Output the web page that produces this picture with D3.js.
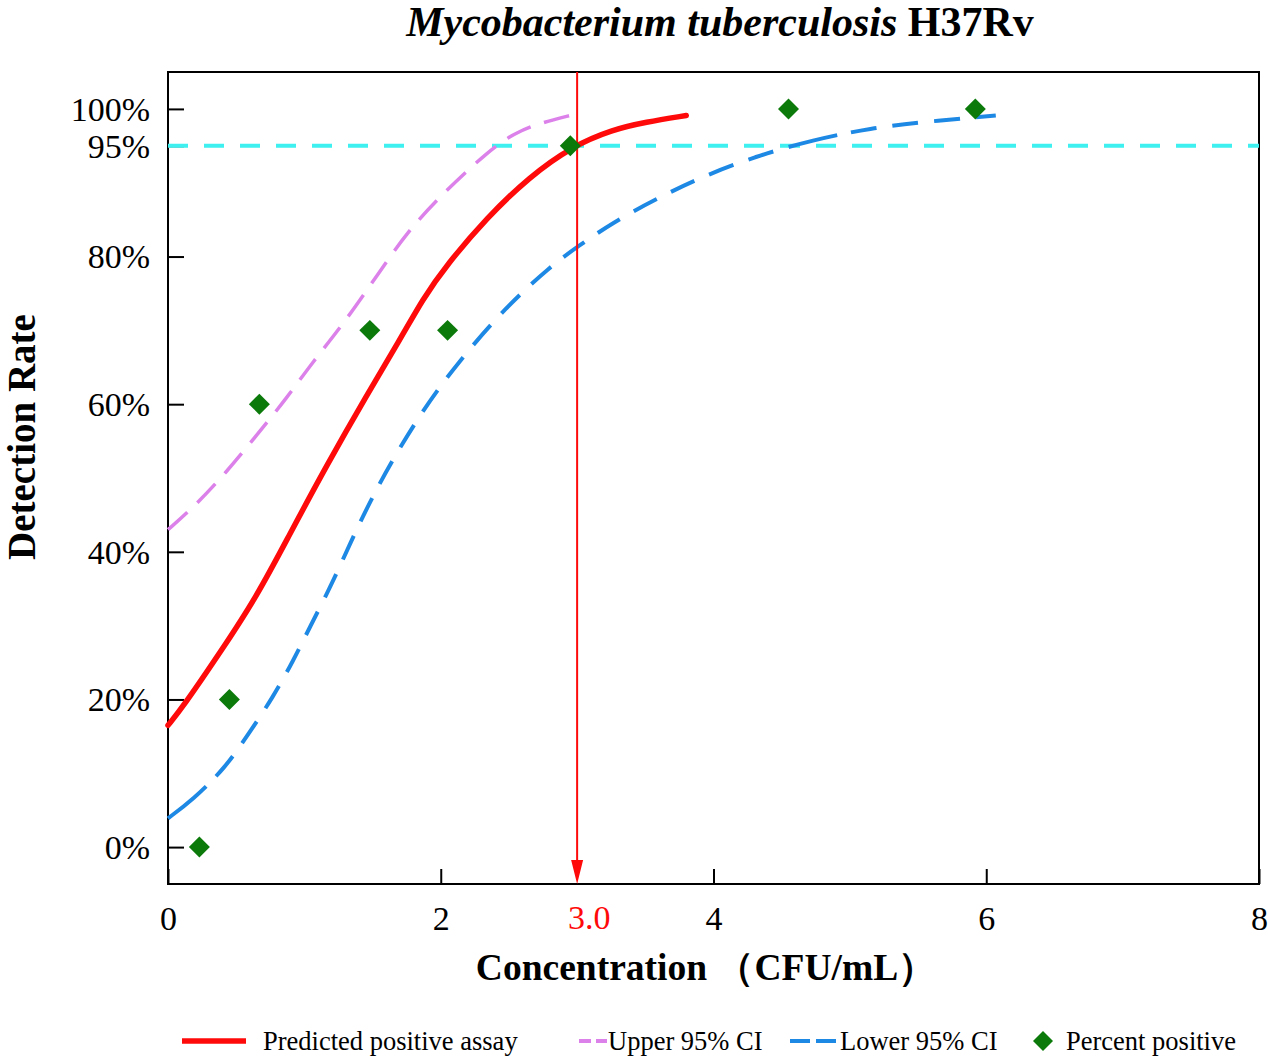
<!DOCTYPE html>
<html><head><meta charset="utf-8">
<script src="https://cdn.jsdelivr.net/npm/d3@7"></script>
<style>body{margin:0;background:#fff}svg{display:block}</style>
</head><body>
<svg id="c" width="1268" height="1061"></svg>
<script>
const predX = [0, 0.11, 0.38, 0.65, 0.89, 1.16, 1.46, 1.70, 1.87, 2.04, 2.34, 2.65, 2.96, 3.26, 3.50, 3.80];
const predY = [16.5, 19.0, 26.3, 33.9, 42.3, 51.6, 61.3, 68.7, 74.3, 78.8, 85.3, 90.8, 94.9, 97.2, 98.2, 99.1];
const upperX = [0, 0.18, 0.43, 0.65, 0.87, 1.06, 1.28, 1.55, 1.75, 1.99, 2.36, 2.55, 2.73, 2.97];
const upperY = [43, 45.9, 50.8, 55.8, 60.8, 65.7, 70.7, 77.9, 83.2, 88.1, 94.5, 96.8, 98.1, 99.2];
const lowerX = [0, 0.18, 0.42, 0.60, 0.77, 0.92, 1.04, 1.19, 1.32, 1.53, 1.85, 2.14, 2.48, 2.80, 3.0, 3.26, 3.58, 3.9, 4.31, 4.73, 5.15, 5.57, 6.07];
const lowerY = [3.9, 6.4, 10.7, 15.6, 20.3, 25.3, 29.8, 35.2, 40.5, 48.8, 58.8, 66.0, 73.2, 78.6, 81.3, 84.6, 87.8, 90.7, 93.6, 95.8, 97.4, 98.3, 99.1];
const ptX = [0.23, 0.45, 0.67, 1.48, 2.05, 2.95, 4.55, 5.92];
const ptY = [0, 20, 60, 70, 70, 95, 100, 100];
const xTicks = [0, 2, 4, 6, 8];
const yTicks = [0, 20, 40, 60, 80, 95, 100];
const lodX = 3.0;
const cutY = 95;
const legendLabels = ["Predicted positive assay", "Upper 95% CI", "Lower 95% CI", "Percent positive"];

const svg = d3.select("#c");
const L = 168, R = 1259, T = 72, B = 884;
const x = d3.scaleLinear().domain([0, 8]).range([L, R]);
const y = d3.scaleLinear().domain([-5, 105]).range([B, T]);
const serif = "'Liberation Serif','Times New Roman',serif";
const RED = "#ff0a0a", VIO = "#dc80ea", BLU = "#1e88e5", CY = "#3ff0f0", GRN = "#0b7a0b";

// title
const title = svg.append("text").attr("x", 720).attr("y", 36).attr("text-anchor", "middle")
  .attr("font-family", serif).attr("font-size", 42).attr("font-weight", "bold");
title.append("tspan").attr("font-style", "italic").text("Mycobacterium tuberculosis");
title.append("tspan").text(" H37Rv");

// frame
svg.append("rect").attr("x", L).attr("y", T).attr("width", R - L).attr("height", B - T)
  .attr("fill", "none").attr("stroke", "#000").attr("stroke-width", 2);

// axes
const xAxis = d3.axisBottom(x).tickValues(xTicks).tickSize(-15).tickPadding(22).tickFormat(d3.format("d"));
const gx = svg.append("g").attr("transform", `translate(0,${B})`).call(xAxis);
gx.select(".domain").remove();
gx.selectAll("line").attr("stroke-width", 2);
gx.selectAll("text").attr("font-family", serif).attr("font-size", 34).attr("fill", "#000");

const yAxis = d3.axisLeft(y).tickValues(yTicks).tickSize(-16).tickPadding(18).tickFormat(d => d + "%");
const gy = svg.append("g").attr("transform", `translate(${L},0)`).call(yAxis);
gy.select(".domain").remove();
gy.selectAll("line").attr("stroke-width", 2);
gy.selectAll("text").attr("font-family", serif).attr("font-size", 34).attr("fill", "#000").attr("dy", "0.33em");

// red 3.0 label
svg.append("text").attr("x", x(lodX) + 12).attr("y", B + 45).attr("text-anchor", "middle")
  .attr("font-family", serif).attr("font-size", 34).attr("fill", RED).text(lodX.toFixed(1));

// axis titles
svg.append("text").attr("x", 706).attr("y", 980).attr("text-anchor", "middle")
  .attr("font-family", serif).attr("font-size", 37.5).attr("font-weight", "bold")
  .text("Concentration （CFU/mL）");
svg.append("text").attr("transform", "translate(35,437) rotate(-90)").attr("text-anchor", "middle")
  .attr("font-family", serif).attr("font-size", 39).attr("font-weight", "bold").text("Detection Rate");

// cyan 95% line
svg.append("line").attr("x1", L).attr("x2", R).attr("y1", y(cutY)).attr("y2", y(cutY))
  .attr("stroke", CY).attr("stroke-width", 4).attr("stroke-dasharray", "20,16");

const line = d3.line().x(d => x(d[0])).y(d => y(d[1])).curve(d3.curveBasis);
const zip = (a, b) => a.map((v, i) => [v, b[i]]);

svg.append("path").attr("d", line(zip(upperX, upperY))).attr("fill", "none")
  .attr("stroke", VIO).attr("stroke-width", 3.5).attr("stroke-dasharray", "26,14");
svg.append("path").attr("d", line(zip(lowerX, lowerY))).attr("fill", "none")
  .attr("stroke", BLU).attr("stroke-width", 4).attr("stroke-dasharray", "50,14,26,16,26,16,26,16,26,16,26,16,26,16,26,16,26,16,26,16,26,16,26,16,26,16,26,16,26,16,26,16,26,16,26,16,26,16,26,16,26,16,26,16");
svg.append("path").attr("d", line(zip(predX, predY))).attr("fill", "none")
  .attr("stroke", RED).attr("stroke-width", 5.5).attr("stroke-linecap", "round");

// vertical red arrow
svg.append("line").attr("x1", x(lodX)).attr("x2", x(lodX)).attr("y1", T).attr("y2", B - 18)
  .attr("stroke", RED).attr("stroke-width", 2);
svg.append("path").attr("d", `M${x(lodX) - 6},${B - 24} L${x(lodX) + 6},${B - 24} L${x(lodX)},${B} Z`).attr("fill", RED);

// points
const sym = d3.symbol(d3.symbolSquare, 220);
svg.append("g").selectAll("path").data(zip(ptX, ptY)).join("path")
  .attr("d", sym).attr("fill", GRN)
  .attr("transform", d => `translate(${x(d[0])},${y(d[1])}) rotate(45)`);

// legend
const ly = 1041;
const lg = svg.append("g").attr("font-family", serif).attr("font-size", 26.5);
lg.append("line").attr("x1", 182).attr("x2", 246).attr("y1", ly).attr("y2", ly).attr("stroke", RED).attr("stroke-width", 5.5);
lg.append("text").attr("x", 263).attr("y", ly + 9).text(legendLabels[0]);
lg.append("line").attr("x1", 579).attr("x2", 607).attr("y1", ly).attr("y2", ly).attr("stroke", VIO).attr("stroke-width", 4).attr("stroke-dasharray", "12,5");
lg.append("text").attr("x", 608).attr("y", ly + 9).text(legendLabels[1]);
lg.append("line").attr("x1", 790).attr("x2", 840).attr("y1", ly).attr("y2", ly).attr("stroke", BLU).attr("stroke-width", 4).attr("stroke-dasharray", "20,6");
lg.append("text").attr("x", 840).attr("y", ly + 9).text(legendLabels[2]);
lg.append("path").attr("d", d3.symbol(d3.symbolSquare, 200)).attr("fill", GRN).attr("transform", `translate(1043,${ly}) rotate(45)`);
lg.append("text").attr("x", 1066).attr("y", ly + 9).text(legendLabels[3]);
</script>
</body></html>
